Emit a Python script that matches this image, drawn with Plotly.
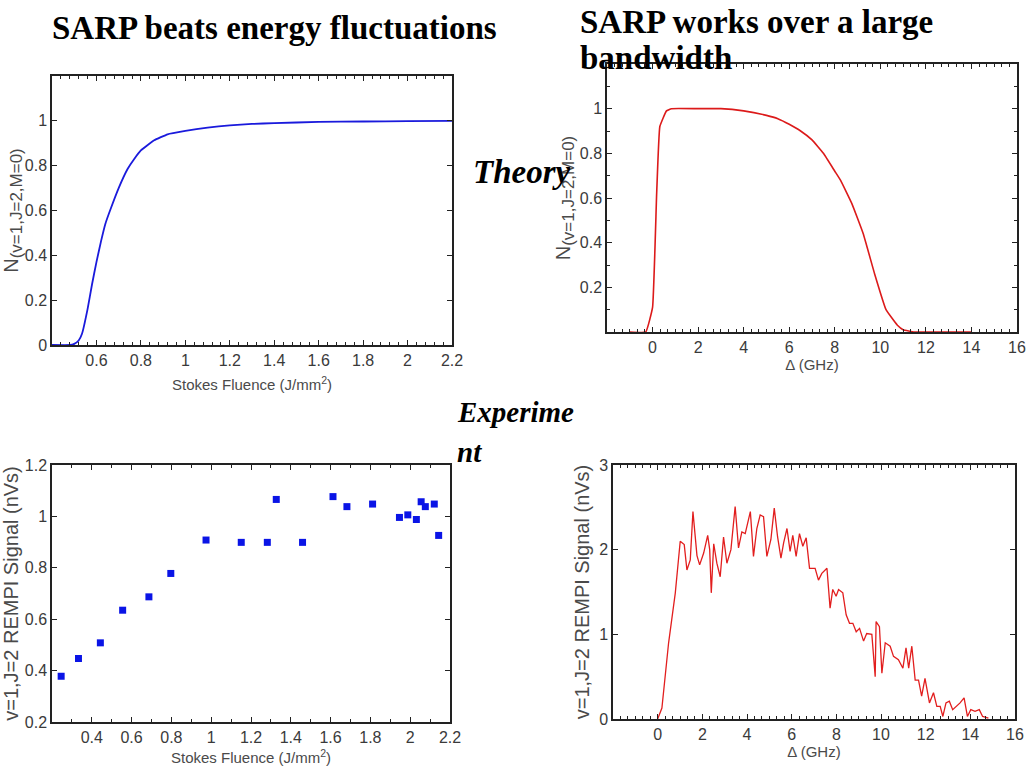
import plotly.graph_objects as go

W, H = 1027, 779

# ---------------- data ----------------
# Theory: population vs Stokes fluence
fluence_theory = [0.40, 0.48, 0.50, 0.52, 0.535, 0.56, 0.58, 0.60, 0.62, 0.64, 0.665, 0.70,
                  0.74, 0.77, 0.80, 0.86, 0.92, 1.0, 1.1, 1.2, 1.3, 1.4, 1.6, 1.8, 2.0, 2.2]
pop_theory = [0.0, 0.0, 0.005, 0.02, 0.05, 0.16, 0.27, 0.37, 0.46, 0.54, 0.61, 0.70,
              0.785, 0.83, 0.868, 0.913, 0.94, 0.955, 0.97, 0.98, 0.986, 0.99, 0.995, 0.997, 0.999, 1.0]

# Theory: population vs detuning
detuning_theory = [-1.0, -0.3, 0.0, 0.18, 0.32, 0.61, 0.83, 2.0, 3.0, 4.0, 5.0, 5.5, 6.0, 6.5,
                   7.0, 7.5, 8.0, 8.25, 8.75, 9.25, 9.75, 10.25, 10.75, 11.0, 11.5, 12.0, 13.0, 14.0]
pop_detuning = [0.0, 0.0, 0.11, 0.62, 0.92, 0.99, 1.0, 1.0, 1.0, 0.99, 0.97, 0.955, 0.93, 0.90,
                0.86, 0.80, 0.72, 0.68, 0.575, 0.44, 0.26, 0.10, 0.03, 0.01, 0.0, 0.0, 0.0, 0.0]

# Experiment: REMPI signal vs Stokes fluence
fluence_exp = [0.246, 0.333, 0.443, 0.555, 0.687, 0.797, 0.974, 1.151, 1.282, 1.327, 1.459,
               1.612, 1.682, 1.811, 1.946, 1.988, 2.031, 2.055, 2.076, 2.121, 2.143]
signal_fluence = [0.378, 0.447, 0.508, 0.635, 0.687, 0.778, 0.908, 0.899, 0.899, 1.066, 0.899,
                  1.077, 1.038, 1.048, 0.996, 1.006, 0.988, 1.057, 1.038, 1.048, 0.926]

# Experiment: REMPI signal vs detuning
detuning_exp = [0.0, 0.19, 0.49, 0.79, 1.01, 1.19, 1.31, 1.46, 1.58, 1.76, 1.88, 2.06, 2.24, 2.33,
                2.40, 2.51, 2.65, 2.80, 2.95, 3.10, 3.28, 3.47, 3.62, 3.77, 3.92, 4.15, 4.29,
                4.44, 4.59, 4.74, 4.89, 5.07, 5.22, 5.37, 5.52, 5.64, 5.79, 5.93, 6.05, 6.20,
                6.35, 6.50, 6.65, 6.80, 7.05, 7.20, 7.35, 7.58, 7.72, 7.84, 7.99, 8.10, 8.29,
                8.44, 8.59, 8.74, 8.89, 9.04, 9.22, 9.36, 9.59, 9.74, 9.78, 9.93, 10.04, 10.19,
                10.41, 10.56, 10.78, 10.98, 11.12, 11.24, 11.38, 11.53, 11.68, 11.82, 11.97,
                12.17, 12.35, 12.50, 12.65, 12.77, 12.91, 13.06, 13.21, 13.39, 13.54, 13.72,
                13.87, 14.02, 14.21, 14.40, 14.55, 14.81]
signal_detuning = [0.0, 0.13, 0.90, 1.49, 2.10, 2.06, 1.76, 1.88, 2.45, 1.93, 1.82, 1.96, 2.17, 2.00,
                   1.49, 2.07, 1.84, 1.68, 2.15, 1.84, 2.00, 2.51, 2.02, 2.21, 2.19, 2.45, 1.92,
                   2.25, 2.41, 2.39, 1.92, 2.12, 2.49, 2.15, 1.90, 2.08, 2.25, 1.98, 2.17, 1.92,
                   2.19, 2.04, 2.14, 1.78, 1.78, 1.64, 1.72, 1.78, 1.31, 1.53, 1.45, 1.53, 1.49,
                   1.23, 1.13, 1.13, 1.03, 1.07, 0.92, 1.01, 1.00, 0.50, 1.15, 1.09, 0.54, 0.90,
                   0.86, 0.74, 0.70, 0.60, 0.84, 0.60, 0.86, 0.46, 0.46, 0.27, 0.48,
                   0.19, 0.31, 0.15, 0.15, 0.03, 0.19, 0.21, 0.11, 0.15, 0.19, 0.25,
                   0.03, 0.11, 0.09, 0.11, 0.03, 0.01]

# tick labels
fl_ticks_top = [0.6, 0.8, 1.0, 1.2, 1.4, 1.6, 1.8, 2.0, 2.2]
fl_ticks_bot = [0.4, 0.6, 0.8, 1.0, 1.2, 1.4, 1.6, 1.8, 2.0, 2.2]
ghz_ticks = [0, 2, 4, 6, 8, 10, 12, 14, 16]
pop_ticks_tl = [0, 0.2, 0.4, 0.6, 0.8, 1.0]
pop_ticks_tr = [0.2, 0.4, 0.6, 0.8, 1.0]
sig_ticks_bl = [0.2, 0.4, 0.6, 0.8, 1.0, 1.2]
sig_ticks_br = [0, 1, 2, 3]


def fmt(v):
    return ("%g" % v)


# ---------------- layout helpers ----------------
def xdom(l, r):
    return [l / W, r / W]


def ydom(t, b):
    return [1 - b / H, 1 - t / H]


TICKFONT = dict(family="Liberation Sans, Arial, sans-serif", size=16, color="#3a3a3a")
TITLEFONT = dict(family="Liberation Sans, Arial, sans-serif", size=15, color="#4a4a4a")
YTITLEFONT = dict(family="Liberation Sans, Arial, sans-serif", size=20, color="#4a4a4a")


def axis_style(dom, rng, tickvals, minor_dtick=None, anchor=None):
    d = dict(domain=dom, range=rng, showline=True, linecolor="#222", linewidth=1.5,
             mirror="allticks", ticks="inside", ticklen=5, tickcolor="#222", tickwidth=1,
             showgrid=False, zeroline=False, tickfont=TICKFONT, anchor=anchor,
             automargin=False, tickmode="array", tickvals=tickvals,
             ticktext=[fmt(v) for v in tickvals])
    if minor_dtick:
        d["minor"] = dict(tickmode="linear", dtick=minor_dtick, tick0=0, ticks="inside", ticklen=3,
                          tickcolor="#222", tickwidth=1, showgrid=False)
    return d


fig = go.Figure()

fig.add_trace(go.Scatter(x=fluence_theory, y=pop_theory, mode="lines",
                         line=dict(color="#1a1adc", width=1.8, shape="spline", smoothing=0.3),
                         xaxis="x", yaxis="y", showlegend=False))
fig.add_trace(go.Scatter(x=detuning_theory, y=pop_detuning, mode="lines",
                         line=dict(color="#dc1a1a", width=1.6, shape="spline", smoothing=0.3),
                         xaxis="x2", yaxis="y2", showlegend=False))
fig.add_trace(go.Scatter(x=fluence_exp, y=signal_fluence, mode="markers",
                         marker=dict(symbol="square", size=7, color="#0a14e6"),
                         xaxis="x3", yaxis="y3", showlegend=False))
fig.add_trace(go.Scatter(x=detuning_exp, y=signal_detuning, mode="lines",
                         line=dict(color="#e21e1e", width=1.3),
                         xaxis="x4", yaxis="y4", showlegend=False))

layout = dict(width=W, height=H, margin=dict(l=0, r=0, t=0, b=0, autoexpand=False),
              paper_bgcolor="white", plot_bgcolor="white")

NSUB = "N<sub><span style='font-size:17px'>(v=1,J=2,M=0)</span></sub>"

# top-left
layout["xaxis"] = axis_style(xdom(52, 452), [0.4, 2.2], fl_ticks_top, 0.04, anchor="y")
layout["xaxis"]["title"] = dict(text="Stokes Fluence (J/mm<sup>2</sup>)", font=TITLEFONT, standoff=12)
layout["yaxis"] = axis_style(ydom(76, 345), [0, 1.2], pop_ticks_tl, anchor="x")
layout["yaxis"]["title"] = dict(text=NSUB, font=YTITLEFONT, standoff=4)

# top-right
layout["xaxis2"] = axis_style(xdom(607, 1017), [-2, 16], ghz_ticks, 1 / 3, anchor="y2")
layout["xaxis2"]["title"] = dict(text="Δ (GHz)", font=TITLEFONT, standoff=4)
layout["yaxis2"] = axis_style(ydom(64, 332), [0, 1.2], pop_ticks_tr, 0.1, anchor="x2")
layout["yaxis2"]["title"] = dict(text=NSUB, font=YTITLEFONT, standoff=4)

# bottom-left
layout["xaxis3"] = axis_style(xdom(52, 450), [0.2, 2.2], fl_ticks_bot, 0.1, anchor="y3")
layout["xaxis3"]["title"] = dict(text="Stokes Fluence (J/mm<sup>2</sup>)", font=TITLEFONT, standoff=8)
layout["yaxis3"] = axis_style(ydom(465, 722), [0.2, 1.2], sig_ticks_bl, anchor="x3")
layout["yaxis3"]["title"] = dict(text="v=1,J=2 REMPI Signal (nVs)", font=YTITLEFONT, standoff=2)

# bottom-right
layout["xaxis4"] = axis_style(xdom(613, 1015), [-2, 16], ghz_ticks, 1 / 3, anchor="y4")
layout["xaxis4"]["title"] = dict(text="Δ (GHz)", font=TITLEFONT, standoff=4)
layout["yaxis4"] = axis_style(ydom(465, 719), [0, 3], sig_ticks_br, anchor="x4")
layout["yaxis4"]["title"] = dict(text="v=1,J=2 REMPI Signal (nVs)", font=YTITLEFONT, standoff=4)

HEAD = dict(family="Liberation Serif, Times New Roman, serif", size=33, color="black")
HEAD_T = dict(family="Liberation Serif, Times New Roman, serif", size=33, color="black")
HEAD_E = dict(family="Liberation Serif, Times New Roman, serif", size=29, color="black")


def ann(text, x, y, font, xanchor="left"):
    return dict(text=text, x=x / W, y=1 - y / H, xref="paper", yref="paper",
                xanchor=xanchor, yanchor="middle", showarrow=False, font=font)


layout["annotations"] = [
    ann("<b>SARP beats energy fluctuations</b>", 50, 28, HEAD),
    ann("<b>SARP works over a large</b>", 578, 22, HEAD),
    ann("<b>bandwidth</b>", 578, 58, HEAD),
    ann("<b><i>Theory</i></b>", 471, 172, HEAD_T),
    ann("<b><i>Experime</i></b>", 455, 412, HEAD_E),
    ann("<b><i>nt</i></b>", 455, 452, HEAD_E),
]

fig.update_layout(**layout)
fig.write_html("out.html")
